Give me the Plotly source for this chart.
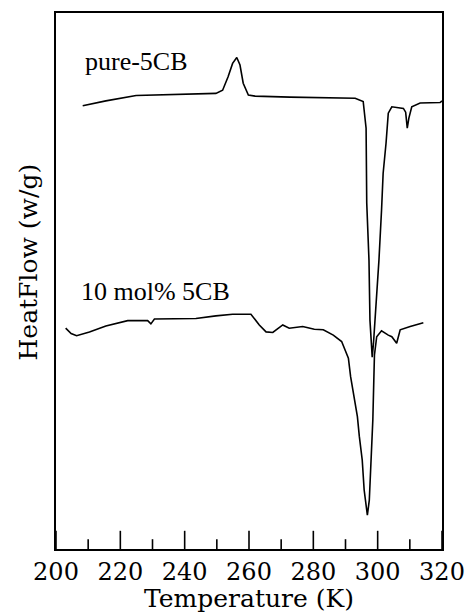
import plotly.graph_objects as go

# Temperature (K) and heat flow (arbitrary units)
pure_T = [208.3, 215.5, 224.9, 234.2, 249.7, 251.8, 253.5, 254.9, 256.2, 257.2, 258.2, 259.8,
          261.9, 272.7, 285.2, 293.0, 295.5, 296.4, 296.6, 297.3, 297.6, 298.3, 298.7, 299.7,
          300.4, 301.2, 301.7, 302.6, 303.3, 304.4, 308.0, 308.7, 309.2, 309.7, 310.6, 313.2,
          319.4, 320.0]
pure_HF = [8.27, 8.36, 8.46, 8.48, 8.50, 8.56, 8.81, 9.06, 9.17, 9.03, 8.69, 8.47,
           8.45, 8.43, 8.42, 8.41, 8.35, 7.85, 6.46, 5.39, 4.27, 3.58, 3.84, 4.65,
           5.39, 6.32, 7.01, 7.57, 8.13, 8.25, 8.22, 8.15, 7.85, 8.04, 8.25, 8.32,
           8.33, 8.36]

mix_T = [203.0, 204.7, 206.4, 210.4, 215.5, 222.3, 228.5, 229.5, 230.6, 243.5, 249.7, 254.9,
         260.6, 263.2, 265.3, 267.4, 270.5, 272.5, 276.7, 280.3, 283.1, 286.2, 288.8, 290.9,
         291.6, 292.6, 293.7, 294.3, 295.2, 295.8, 296.4, 296.8, 297.4, 297.8, 298.3, 298.5,
         298.8, 299.0, 299.7, 301.2, 303.3, 304.4, 305.9, 307.0, 310.1, 312.5, 314.2]
mix_HF = [4.12, 4.02, 3.98, 4.05, 4.16, 4.26, 4.26, 4.20, 4.29, 4.30, 4.35, 4.38,
          4.38, 4.18, 4.05, 4.04, 4.18, 4.12, 4.15, 4.10, 4.09, 3.99, 3.87, 3.56,
          3.21, 2.84, 2.47, 2.10, 1.66, 1.10, 0.79, 0.63, 0.91, 1.41, 2.07, 2.41,
          3.15, 3.62, 3.96, 4.07, 3.99, 3.96, 3.84, 4.09, 4.15, 4.19, 4.22]

labels = ["pure-5CB", "10 mol% 5CB"]
x_range = [200, 320]
y_range = [0, 10]
major_ticks = [200, 220, 240, 260, 280, 300, 320]
minor_ticks = [210, 230, 250, 270, 290, 310]

fig = go.Figure()
for T, HF in [(pure_T, pure_HF), (mix_T, mix_HF)]:
    fig.add_trace(go.Scatter(x=T, y=HF, mode="lines",
                             line=dict(color="black", width=1.6), showlegend=False))

# inward tick marks: vertical line-markers centred on the bottom edge (lower half clipped)
for ticks, size in [(major_ticks, 26), (minor_ticks, 14)]:
    fig.add_trace(go.Scatter(x=ticks, y=[y_range[0]] * len(ticks), mode="markers",
                             marker=dict(symbol="line-ns", size=size, color="black",
                                         line=dict(color="black", width=1.6)),
                             cliponaxis=True, showlegend=False, hoverinfo="skip"))

fig.add_annotation(x=208.3, y=9.1, text=labels[0], showarrow=False, xanchor="left",
                   yanchor="middle", font=dict(family="Liberation Serif", size=26, color="black"))
fig.add_annotation(x=207.0, y=4.8, text=labels[1], showarrow=False, xanchor="left",
                   yanchor="middle", font=dict(family="Liberation Serif", size=26, color="black"))
fig.add_annotation(xref="paper", yref="paper", x=-0.072, y=0.535, text="HeatFlow (w/g)",
                   textangle=-90, showarrow=False, xanchor="center", yanchor="middle",
                   font=dict(family="DejaVu Serif", size=25, color="black"))

fig.update_layout(
    width=471, height=613,
    margin=dict(l=56, r=29, t=13, b=64),
    paper_bgcolor="white", plot_bgcolor="white",
    font=dict(family="DejaVu Serif", size=22, color="black"),
    xaxis=dict(range=x_range, tickmode="array", tickvals=major_ticks, ticks="",
               showline=True, linecolor="black", linewidth=1.5, mirror=True,
               showgrid=False, zeroline=False, automargin=False,
               title=dict(text="Temperature (K)", font=dict(size=25), standoff=4),
               tickfont=dict(size=24)),
    yaxis=dict(range=y_range, showticklabels=False, ticks="", showline=True, linecolor="black",
               linewidth=1.5, mirror=True, showgrid=False, zeroline=False, automargin=False),
)

fig.write_html("out.html")
